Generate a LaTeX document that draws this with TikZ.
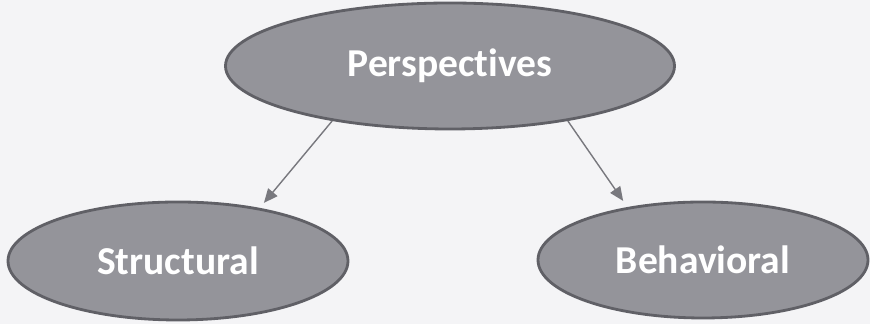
\documentclass[tikz,border=0pt]{standalone}
\usepackage{xcolor}
\usepackage{fontspec}
\setmainfont{Carlito}[Ligatures=NoCommon]
\usepackage{tikz}
\usetikzlibrary{positioning, arrows.meta, shapes.geometric}

\definecolor{paper}{RGB}{244,244,246}
\definecolor{ovalfill}{RGB}{148,148,154}
\definecolor{ovaledge}{RGB}{96,96,102}
\definecolor{arrowgray}{RGB}{120,120,126}

\begin{document}
\begin{tikzpicture}[
    oval/.style={ellipse, draw=ovaledge, line width=1.6pt, fill=ovalfill,
                 inner sep=0pt, text=white,
                 font=\fontsize{22.5}{27}\selectfont\bfseries},
    arr/.style={-{Triangle[length=2.8mm, width=2.4mm]}, draw=arrowgray,
                fill=arrowgray, line width=0.8pt},
]

% Background
\fill[paper] (0,0) rectangle (17.4,6.48);

% Top: root perspective
\node[oval, minimum width=8.98cm, minimum height=2.52cm] (persp) at (9.0,5.16) {Perspectives};

% Bottom row
\node[oval, minimum width=6.8cm, minimum height=2.36cm] (struct) at (3.56,1.26) {Structural};
\node[oval, minimum width=6.6cm, minimum height=2.32cm] (behav) at (14.06,1.28) {Behavioral};

% Arrows
\draw[arr, shorten >=0.13cm] (persp.205) -- (struct.33);
\draw[arr, shorten >=0.15cm] (persp.335) -- (behav.145);

\end{tikzpicture}
\end{document}
